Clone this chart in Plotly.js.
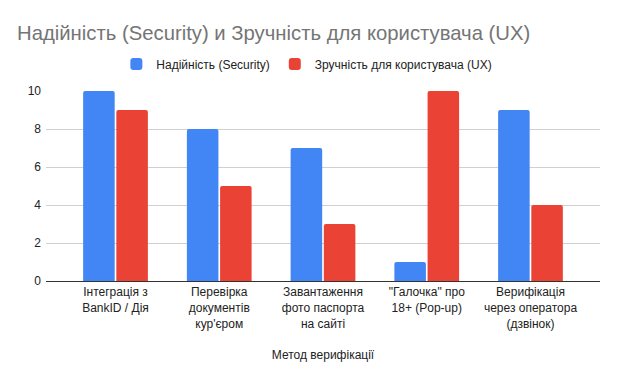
<!DOCTYPE html>
<html>
<head>
<meta charset="utf-8">
<script src="https://cdn.plot.ly/plotly-3.0.1.min.js"></script>
<style>html,body{margin:0;padding:0;background:#fff;}#chart{width:620px;height:383px;}</style>
</head>
<body>
<div id="chart"></div>
<script>
const categories = [
  "Інтеграція з<br>BankID / Дія",
  "Перевірка<br>документів<br>кур'єром",
  "Завантаження<br>фото паспорта<br>на сайті",
  "\"Галочка\" про<br>18+ (Pop-up)",
  "Верифікація<br>через оператора<br>(дзвінок)"
];
const securityValues = [10, 8, 7, 1, 9];
const uxValues = [9, 5, 3, 10, 4];
const seriesNames = ["Надійність (Security)", "Зручність для користувача (UX)"];
const yTicks = [0, 2, 4, 6, 8, 10];

const font = "Arial, 'Liberation Sans', sans-serif";

const data = [
  {type: "bar", x: categories, y: securityValues, name: seriesNames[0],
   marker: {color: "#4285F4"}, hoverinfo: "none"},
  {type: "bar", x: categories, y: uxValues, name: seriesNames[1],
   marker: {color: "#EA4335"}, hoverinfo: "none"}
];

const layout = {
  width: 620, height: 383,
  margin: {l: 46, r: 20, t: 91, b: 102},
  paper_bgcolor: "#fff", plot_bgcolor: "#fff",
  font: {family: font, size: 12, color: "#222"},
  title: {text: "Надійність (Security) и Зручність для користувача (UX)",
    font: {family: font, size: 20.3, color: "#757575"},
    xref: "container", x: 17/620, xanchor: "left",
    yref: "container", y: 1 - 33/383, yanchor: "middle"},
  showlegend: true,
  legend: {orientation: "h", xref: "paper", x: 0.127, xanchor: "left",
    yref: "paper", y: 1 + 27/190, yanchor: "middle",
    font: {family: font, size: 12, color: "#222"}, itemwidth: 30, traceorder: "normal"},
  barmode: "group", bargap: 0.36, bargroupgap: 0.05, barcornerradius: 2,
  xaxis: {type: "category", range: [-0.67, 4.67], showgrid: false,
    showline: true, linecolor: "#333", linewidth: 1, ticks: "",
    tickfont: {family: font, size: 12, color: "#222"},
    title: {text: "Метод верифікації", font: {family: font, size: 12, color: "#222"}, standoff: 21},
    automargin: false, fixedrange: true},
  yaxis: {range: [0, 10], tickvals: yTicks, ticktext: yTicks.map(String),
    showgrid: true, gridcolor: "#d0d0d0", gridwidth: 1, zeroline: false,
    showline: false, ticks: "", ticklabelstandoff: 4,
    tickfont: {family: font, size: 12, color: "#222"},
    automargin: false, fixedrange: true}
};

Plotly.newPlot("chart", data, layout, {displayModeBar: false, staticPlot: true});
</script>
</body>
</html>
